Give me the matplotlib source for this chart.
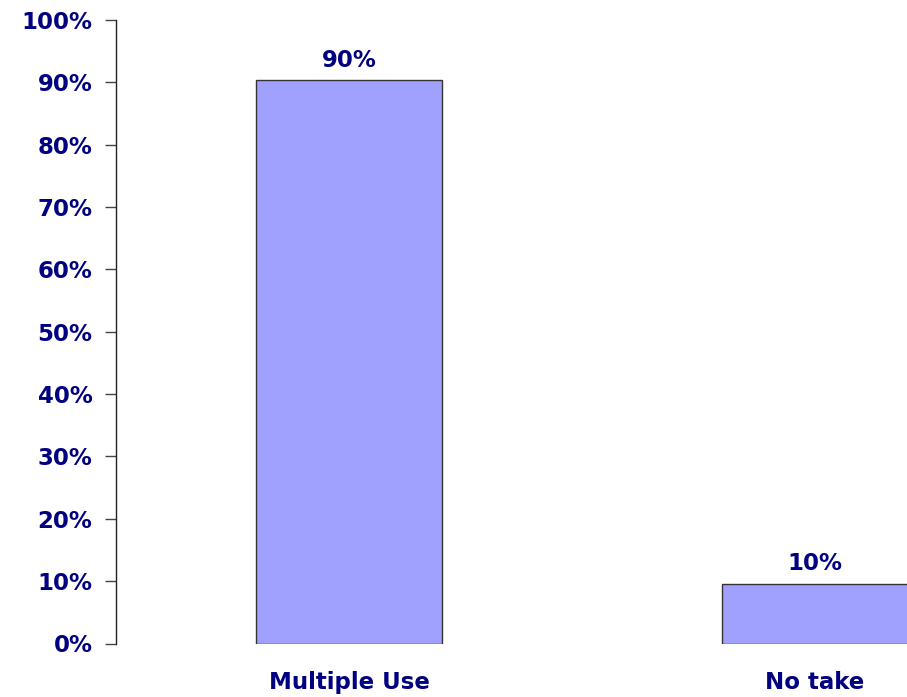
import matplotlib
matplotlib.use("Agg")
import matplotlib.pyplot as plt

categories = ["Multiple Use", "No take"]
values = [90.4, 9.6]
value_labels = ["90%", "10%"]
yticks = [0, 10, 20, 30, 40, 50, 60, 70, 80, 90, 100]
ytick_labels = [f"{t}%" for t in yticks]

W, H = 907, 697
fig = plt.figure(figsize=(W / 100, H / 100), dpi=100)
left_px, right_px = 116, 907
bot_px, top_px = 643.5, 20
ax = fig.add_axes([left_px / W, (H - bot_px) / H, (right_px - left_px) / W, (bot_px - top_px) / H])

navy = "#000080"
font = dict(family="DejaVu Sans", weight="bold", size=16.5, color=navy)

cat_px = 466.0
xs = list(range(len(categories)))
bars = ax.bar(xs, values, width=186 / cat_px, color="#A0A0FF", edgecolor="#333333", linewidth=1.0, zorder=2)
ax.set_xlim(-0.5, -0.5 + (right_px - left_px) / cat_px)
ax.set_ylim(0, 100)

for x, v, lab in zip(xs, values, value_labels):
    ax.annotate(lab, (x, v), xytext=(0, 6), textcoords="offset points", ha="center", va="bottom", **font, clip_on=False)

ax.set_yticks(yticks)
ax.set_yticklabels(ytick_labels, **font)
ax.tick_params(axis="y", length=8, width=1, pad=9, color="#444444")
ax.set_xticks(xs)
ax.set_xticklabels(categories, **font)
ax.tick_params(axis="x", length=0, pad=20)

for s in ["top", "right", "bottom"]:
    ax.spines[s].set_visible(False)
ax.spines["left"].set_linewidth(1.0)
ax.spines["left"].set_color("#222222")

fig.savefig("out.png", dpi=100)
